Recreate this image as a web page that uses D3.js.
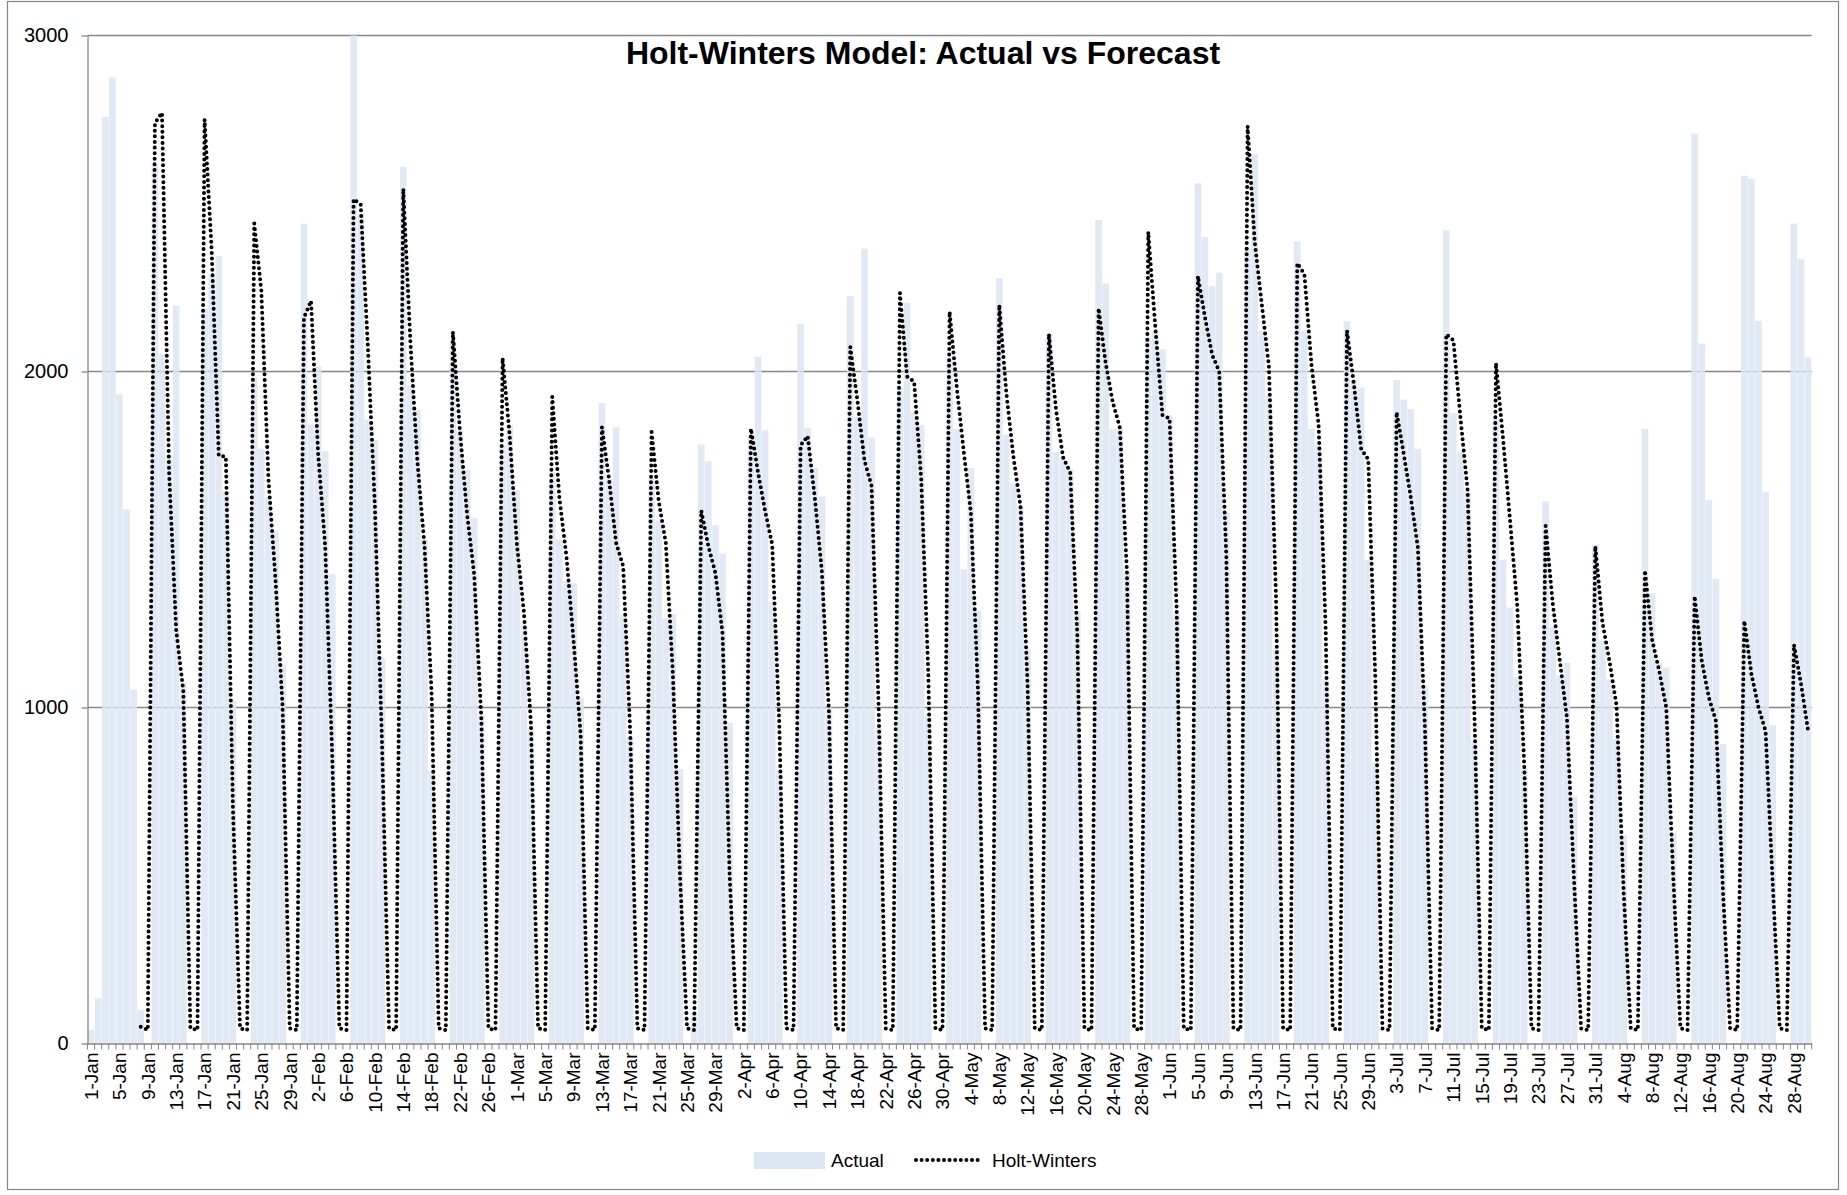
<!DOCTYPE html>
<html>
<head>
<meta charset="utf-8">
<script src="https://cdn.jsdelivr.net/npm/d3@7"></script>
<style>
  body { margin: 0; background: #fff; }
  text { font-family: "Liberation Sans", Arial, sans-serif; }
</style>
</head>
<body>
<svg id="chart" width="1847" height="1195"></svg>
<script>
// Daily categories, 1 Jan to 30 Aug 2012
const days = d3.timeDay.range(new Date(2012, 0, 1), new Date(2012, 7, 31));
const categories = days.map(d3.timeFormat("%-d-%b"));

// Actual daily values (one week per row after the first days)
const actual = [
  41, 135, 2758, 2875, 1932, 1590, 1053, 100, 0,
  2616, 2052, 1750, 2195, 1075, 0, 0,
  2188, 2288, 2344, 1644, 1020, 0, 0,
  1982, 1770, 1627, 1526, 1128, 0, 0,
  2440, 1843, 2016, 1763, 1397, 0, 0,
  3000, 2470, 1857, 1797, 1146, 0, 0,
  2610, 1959, 1886, 1500, 810, 0, 0,
  2095, 1826, 1707, 1565, 980, 0, 0,
  1780, 1840, 1647, 1248, 940, 0, 0,
  1700, 1500, 1375, 1370, 1030, 0, 0,
  1906, 1680, 1834, 1275, 910, 0, 0,
  1683, 1556, 1265, 1278, 817, 0, 90,
  1783, 1733, 1542, 1458, 955, 0, 0,
  1810, 2044, 1826, 1315, 812, 0, 0,
  2141, 1832, 1713, 1628, 1000, 0, 0,
  2225, 1866, 2366, 1803, 940, 0, 0,
  1950, 2205, 1880, 1841, 980, 0, 0,
  2040, 1829, 1411, 1713, 1287, 0, 0,
  2278, 1812, 1666, 1597, 1175, 0, 0,
  2112, 1760, 1743, 1709, 1287, 0, 0,
  2451, 2262, 1829, 1829, 1403, 0, 0,
  2100, 2120, 2066, 1869, 1279, 0, 0,
  2560, 2400, 2254, 2294, 1579, 0, 0,
  2368, 2648, 2122, 1928, 1175, 0, 0,
  2387, 2122, 1829, 1780, 1081, 0, 0,
  2149, 1975, 1952, 1440, 835, 0, 0,
  1975, 1916, 1888, 1770, 1064, 0, 0,
  2420, 1877, 1761, 1643, 900, 0, 0,
  1860, 1440, 1297, 1090, 820, 0, 0,
  1614, 1240, 1095, 1133, 735, 0, 0,
  1484, 1198, 1084, 907, 620, 0, 0,
  1829, 1340, 1135, 1119, 628, 0, 0,
  2708, 2083, 1617, 1383, 891, 0, 0,
  2583, 2573, 2151, 1641, 947, 0, 0,
  2440, 2334, 2043
];

// Holt-Winters forecast (no forecast for the first week)
const holtWinters = [
  null, null, null, null, null, null, null, 50, 40,
  2740, 2770, 1700, 1230, 1050, 45, 40,
  2750, 2360, 1750, 1746, 700, 45, 40,
  2441, 2240, 1680, 1380, 1000, 45, 40,
  2160, 2210, 1757, 1480, 850, 45, 40,
  2513, 2497, 2080, 1600, 900, 45, 40,
  2544, 2090, 1730, 1480, 1040, 45, 40,
  2118, 1820, 1575, 1395, 970, 45, 40,
  2040, 1810, 1490, 1285, 950, 45, 40,
  1925, 1625, 1450, 1200, 920, 45, 40,
  1835, 1680, 1490, 1420, 920, 45, 40,
  1820, 1615, 1490, 1100, 500, 45, 40,
  1586, 1480, 1400, 1220, 500, 45, 40,
  1830, 1700, 1585, 1485, 950, 45, 40,
  1780, 1808, 1625, 1405, 985, 45, 40,
  2073, 1915, 1735, 1660, 1000, 45, 40,
  2234, 1985, 1970, 1680, 1100, 45, 40,
  2178, 1955, 1760, 1580, 1050, 45, 40,
  2198, 1935, 1745, 1598, 1060, 45, 40,
  2112, 1885, 1744, 1700, 1215, 45, 40,
  2188, 2024, 1908, 1833, 1400, 45, 40,
  2415, 2130, 1870, 1860, 1290, 45, 40,
  2284, 2160, 2050, 2000, 1450, 45, 40,
  2730, 2386, 2200, 2015, 1330, 45, 40,
  2322, 2290, 2020, 1843, 1235, 45, 40,
  2122, 1958, 1770, 1738, 1085, 45, 40,
  1879, 1755, 1625, 1475, 935, 45, 40,
  2111, 2093, 1862, 1648, 955, 45, 40,
  2025, 1800, 1553, 1303, 820, 45, 40,
  1540, 1310, 1140, 970, 490, 45, 40,
  1480, 1255, 1138, 1005, 450, 45, 40,
  1408, 1202, 1110, 1000, 490, 45, 40,
  1331, 1140, 1030, 960, 450, 45, 40,
  1258, 1100, 1000, 930, 480, 45, 40,
  1187, 1070, 930
];

const yTicks = [0, 1000, 2000, 3000];
const xTickEvery = 4;
const seriesNames = ["Actual", "Holt-Winters"];
const titleText = "Holt-Winters Model: Actual vs Forecast";

const svg = d3.select("#chart");
const plot = { left: 87.5, right: 1811.7, top: 35.5, bottom: 1043.5 };
const axisColor = "#868686";
const barColor = "#dce6f2";
const dotStyle = { width: 4, dash: "0 5.6" };

// Outer chart border
svg.append("rect")
  .attr("x", 7.5).attr("y", 1.5)
  .attr("width", 1831).attr("height", 1188)
  .attr("fill", "none").attr("stroke", axisColor).attr("stroke-width", 1.2);

const x = d3.scaleBand()
  .domain(d3.range(categories.length))
  .range([plot.left, plot.right])
  .paddingInner(0.06)
  .paddingOuter(0.03);

const y = d3.scaleLinear().domain([0, 3000]).range([plot.bottom, plot.top]);

// Horizontal gridlines
svg.append("g")
  .selectAll("line")
  .data(yTicks.filter(v => v > 0))
  .join("line")
  .attr("x1", plot.left).attr("x2", plot.right)
  .attr("y1", d => y(d)).attr("y2", d => y(d))
  .attr("stroke", axisColor).attr("stroke-width", 1.3);

// Actual values as columns
svg.append("g")
  .selectAll("rect")
  .data(actual)
  .join("rect")
  .attr("x", (d, i) => x(i))
  .attr("width", x.bandwidth())
  .attr("y", d => y(d))
  .attr("height", d => plot.bottom - y(d))
  .attr("fill", barColor)
  .attr("fill-opacity", 0.85);

// Holt-Winters forecast as a round-dotted line
const line = d3.line()
  .defined(d => d != null)
  .x((d, i) => x(i) + x.bandwidth() / 2)
  .y(d => y(d));

svg.append("path")
  .datum(holtWinters)
  .attr("d", line)
  .attr("fill", "none")
  .attr("stroke", "#000")
  .attr("stroke-width", dotStyle.width)
  .attr("stroke-linecap", "round")
  .attr("stroke-linejoin", "round")
  .attr("stroke-dasharray", dotStyle.dash);

// Y axis
const yAxis = svg.append("g")
  .attr("transform", `translate(${plot.left},0)`)
  .call(d3.axisLeft(y).tickValues(yTicks).tickFormat(d3.format("d"))
    .tickSize(6).tickSizeOuter(0).tickPadding(13));
yAxis.select(".domain").attr("stroke", axisColor).attr("stroke-width", 1.3);
yAxis.selectAll(".tick line").attr("stroke", axisColor).attr("stroke-width", 1.3);
yAxis.selectAll("text").attr("font-size", 20).attr("fill", "#000")
  .style("font-family", '"Liberation Sans", Arial, sans-serif');

// X axis with a label on every fourth day
const xAxis = svg.append("g")
  .attr("transform", `translate(0,${plot.bottom})`)
  .call(d3.axisBottom(x)
    .tickValues(d3.range(0, categories.length, xTickEvery))
    .tickFormat(i => categories[i])
    .tickSize(0).tickSizeOuter(0));
xAxis.select(".domain").attr("stroke", axisColor).attr("stroke-width", 1.3);
xAxis.selectAll("text")
  .attr("font-size", 19).attr("fill", "#000")
  .style("font-family", '"Liberation Sans", Arial, sans-serif')
  .attr("text-anchor", "end")
  .attr("transform", "rotate(-90)")
  .attr("x", -9).attr("y", 0).attr("dy", "0.36em");

// Tick marks between categories
xAxis.append("g")
  .selectAll("line")
  .data(d3.range(categories.length + 1))
  .join("line")
  .attr("x1", i => plot.left + i * x.step())
  .attr("x2", i => plot.left + i * x.step())
  .attr("y1", 0).attr("y2", 6)
  .attr("stroke", axisColor).attr("stroke-width", 1);

// Title
svg.append("text")
  .attr("x", 923).attr("y", 64)
  .attr("text-anchor", "middle")
  .attr("font-size", 32).attr("font-weight", "bold")
  .text(titleText);

// Legend
const legend = svg.append("g").attr("font-size", 19);
legend.append("rect")
  .attr("x", 754).attr("y", 1152).attr("width", 71).attr("height", 17)
  .attr("fill", barColor);
legend.append("text").attr("x", 831).attr("y", 1167).text(seriesNames[0]);
legend.append("line")
  .attr("x1", 916).attr("x2", 981).attr("y1", 1160).attr("y2", 1160)
  .attr("stroke", "#000").attr("stroke-width", dotStyle.width)
  .attr("stroke-linecap", "round").attr("stroke-dasharray", dotStyle.dash);
legend.append("text").attr("x", 992).attr("y", 1167).text(seriesNames[1]);
</script>
</body>
</html>
